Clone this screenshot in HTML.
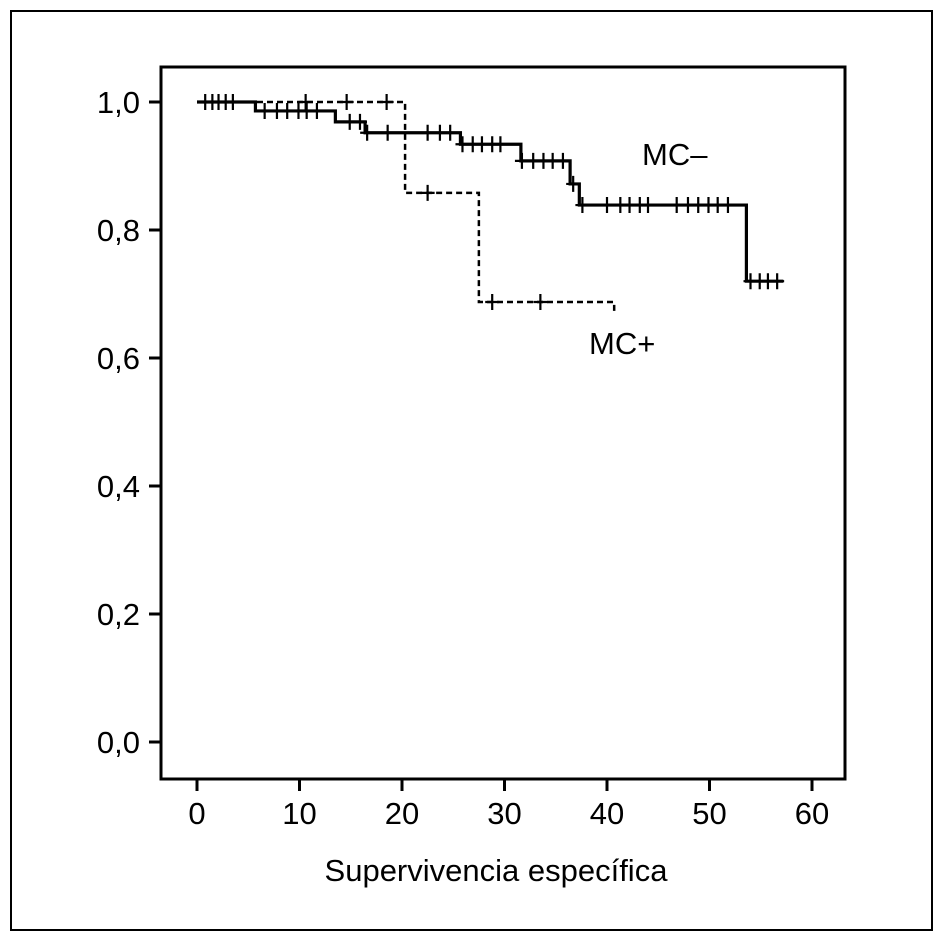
<!DOCTYPE html>
<html><head><meta charset="utf-8"><style>
html,body{margin:0;padding:0;background:#fff}
svg{display:block;font-family:"Liberation Sans",Arial,sans-serif}
</style></head><body>
<svg id="chart" width="943" height="941" viewBox="0 0 943 941">
<rect x="11" y="11" width="921" height="919" fill="none" stroke="#000" stroke-width="2"/>
<g id="axes"></g>
<g id="series"></g>
<text x="642" y="165" font-size="31">MC–</text>
<text x="589" y="354" font-size="31">MC+</text>
<text x="496" y="881" font-size="31" text-anchor="middle">Supervivencia específica</text>
</svg>
<script>
const xTicks = [0,10,20,30,40,50,60];
const yTicks = [0,0.2,0.4,0.6,0.8,1.0];
const yTickLabels = ["0,0","0,2","0,4","0,6","0,8","1,0"];
// MC- step function
const mcMinusTimes = [0,5.7,13.5,16.4,25.7,31.6,36.4,37.3,53.6];
const mcMinusSurv = [1.0,0.986,0.969,0.952,0.934,0.908,0.872,0.839,0.72];
const mcMinusEnd = 57.2;
const mcMinusCensT = [0.8,1.5,2.1,2.8,3.5,6.6,7.8,8.8,9.9,10.7,11.7,14.9,15.9,16.6,18.6,22.5,23.7,24.7,25.9,26.9,27.8,28.8,29.6,31.7,32.8,33.8,34.7,35.7,36.7,37.6,40,41.3,42.2,43.2,44,46.8,47.9,48.9,49.9,50.8,51.8,54,54.9,55.7,56.6];
const mcMinusCensS = [1,1,1,1,1,0.986,0.986,0.986,0.986,0.986,0.986,0.969,0.969,0.952,0.952,0.952,0.952,0.952,0.934,0.934,0.934,0.934,0.934,0.908,0.908,0.908,0.908,0.908,0.872,0.839,0.839,0.839,0.839,0.839,0.839,0.839,0.839,0.839,0.839,0.839,0.839,0.72,0.72,0.72,0.72];
// MC+ step function
const mcPlusTimes = [0,20.3,27.5];
const mcPlusSurv = [1.0,0.858,0.6875];
const mcPlusEnd = 40.7;
const mcPlusCensT = [10.6,14.6,18.5,22.5,28.8,33.5];
const mcPlusCensS = [1,1,1,0.858,0.6875,0.6875];

const NS="http://www.w3.org/2000/svg";
const X0=197, XS=10.25, Y0=742, YS=640;
const xp=t=>X0+t*XS, yp=s=>Y0-s*YS;
function mk(tag,attrs,parent){const e=document.createElementNS(NS,tag);for(const k in attrs)e.setAttribute(k,attrs[k]);parent.appendChild(e);return e;}
const axes=document.getElementById('axes'), ser=document.getElementById('series');
let e=mk('rect',{x:161,y:67,width:684,height:712,fill:'none',stroke:'#000','stroke-width':3},axes);


xTicks.forEach(v=>{
  let l=mk('line',{x1:xp(v),x2:xp(v),y1:779,y2:791,stroke:'#000','stroke-width':3},axes);
  
  
  let t=mk('text',{x:xp(v),y:824,'font-size':31,'text-anchor':'middle'},axes);t.textContent=v;
  
  
});
yTicks.forEach((v,i)=>{
  let l=mk('line',{x1:149,x2:161,y1:yp(v),y2:yp(v),stroke:'#000','stroke-width':3},axes);
  
  
  let t=mk('text',{x:140,y:yp(v)+11,'font-size':31,'text-anchor':'end'},axes);t.textContent=yTickLabels[i];
  
  
});
function stepPath(ts,ss,end){let d='M'+xp(ts[0])+','+yp(ss[0]);for(let i=1;i<ts.length;i++){d+=' H'+xp(ts[i])+' V'+yp(ss[i]);}d+=' H'+xp(end);return d;}
let p1=mk('path',{d:stepPath(mcMinusTimes,mcMinusSurv,mcMinusEnd),fill:'none',stroke:'#000','stroke-width':3.2},ser);


let p2=mk('path',{d:stepPath(mcPlusTimes,mcPlusSurv,mcPlusEnd)+' v10',fill:'none',stroke:'#000','stroke-width':2.5,'stroke-dasharray':'6,4'},ser);


function cens(ts,ss,name){ts.forEach((t,i)=>{
  const x=xp(t),y=yp(ss[i]);
  let c=mk('path',{d:`M${x},${y-8} V${y+8} M${x-7},${y} H${x+7}`,stroke:'#000','stroke-width':2.2,fill:'none'},ser);
  
  
});}
cens(mcMinusCensT,mcMinusCensS,'mc-minus-censor');
cens(mcPlusCensT,mcPlusCensS,'mc-plus-censor');
</script>
</body></html>
